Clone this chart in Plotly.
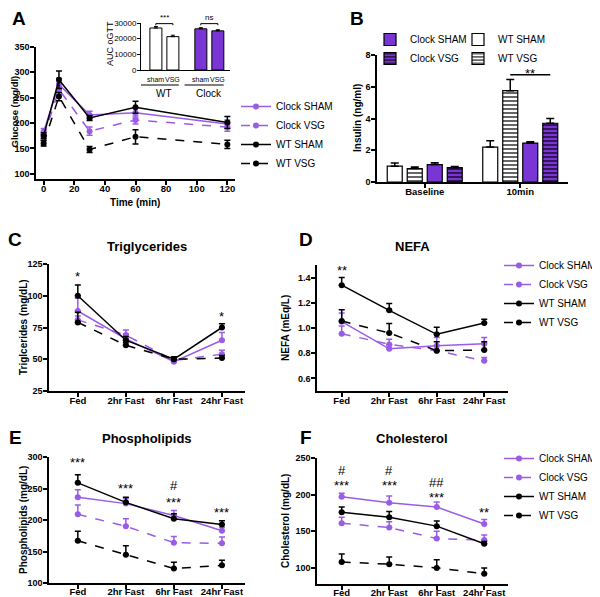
import plotly.graph_objects as go

# The page body has an 8px default margin, so the figure is sized to fit the
# 600x597 window and reference pixel positions are mapped with that offset.
OX, OY = 8, 8
W, H = 600 - OX, 597 - OY
def X(px): return (px - OX) / W
def Y(py): return 1 - (py - OY) / H

PURPLE_LINE = "#9a5ce6"
PURPLE_BAR = "#7a36d4"
FONT = "Liberation Sans, Arial, sans-serif"

# ---------------- data ----------------
groups = ["Clock SHAM", "Clock VSG", "WT SHAM", "WT VSG"]

# Panel A: oGTT glucose
time_min = [0, 10, 30, 60, 120]
glucose_clock_sham = [183, 276, 216, 220, 198]
glucose_clock_sham_err = [6, 12, 7, 10, 8]
glucose_clock_vsg = [172, 266, 184, 206, 192]
glucose_clock_vsg_err = [6, 10, 8, 8, 8]
glucose_wt_sham = [175, 285, 210, 231, 201]
glucose_wt_sham_err = [6, 17, 5, 12, 12]
glucose_wt_vsg = [160, 252, 148, 173, 158]
glucose_wt_vsg_err = [5, 8, 6, 14, 8]

# Panel A inset: AUC oGTT
auc_genotypes = ["WT", "Clock"]
auc_sham = [26800, 26300]
auc_sham_err = [1000, 700]
auc_vsg = [21300, 25000]
auc_vsg_err = [900, 700]

# Panel B: insulin
insulin_cats = ["Baseline", "10min"]
insulin_wt_sham = [1.0, 2.2]
insulin_wt_sham_err = [0.2, 0.4]
insulin_wt_vsg = [0.85, 5.75]
insulin_wt_vsg_err = [0.1, 0.7]
insulin_clock_sham = [1.1, 2.45]
insulin_clock_sham_err = [0.12, 0.08]
insulin_clock_vsg = [0.9, 3.7]
insulin_clock_vsg_err = [0.08, 0.3]

fast_cats = ["Fed", "2hr Fast", "6hr Fast", "24hr Fast"]

# Panel C: triglycerides
tg_clock_sham = [88, 66, 48, 65]
tg_clock_sham_err = [10, 4, 2, 6]
tg_clock_vsg = [81, 69, 49, 54]
tg_clock_vsg_err = [3, 4, 2, 3]
tg_wt_sham = [100, 65, 50, 75]
tg_wt_sham_err = [8.5, 3, 2, 3]
tg_wt_vsg = [79, 61, 50, 51]
tg_wt_vsg_err = [8, 2, 2, 2]

# Panel D: NEFA
nefa_clock_sham = [1.05, 0.835, 0.86, 0.875]
nefa_clock_sham_err = [0.07, 0.03, 0.065, 0.05]
nefa_clock_vsg = [0.955, 0.87, 0.82, 0.74]
nefa_clock_vsg_err = [0.06, 0.04, 0.04, 0.025]
nefa_wt_sham = [1.34, 1.14, 0.95, 1.04]
nefa_wt_sham_err = [0.06, 0.055, 0.055, 0.03]
nefa_wt_vsg = [1.055, 0.96, 0.82, 0.825]
nefa_wt_vsg_err = [0.09, 0.075, 0.07, 0.065]

# Panel E: phospholipids
pl_clock_sham = [236, 226, 207, 183]
pl_clock_sham_err = [12, 8, 8, 5]
pl_clock_vsg = [209, 190, 164, 163]
pl_clock_vsg_err = [15, 12, 10, 10]
pl_wt_sham = [259, 228, 202, 193]
pl_wt_sham_err = [13, 8, 8, 6]
pl_wt_vsg = [167, 145, 123, 128]
pl_wt_vsg_err = [15, 14, 10, 8]

# Panel F: cholesterol
ch_clock_sham = [197, 189, 183, 160]
ch_clock_sham_err = [5, 9, 7, 6]
ch_clock_vsg = [161, 155, 140, 138]
ch_clock_vsg_err = [8, 8, 10, 7]
ch_wt_sham = [176, 169, 157, 133]
ch_wt_sham_err = [7, 8, 7, 3]
ch_wt_vsg = [108, 105, 100, 92]
ch_wt_vsg_err = [11, 10, 11, 8]

# significance labels (category, value level, label)
tg_sig = [("Fed", 115, "*"), ("24hr Fast", 84, "*")]
nefa_sig = [("Fed", 1.46, "**")]
pl_sig = [("Fed", 292, "***"), ("2hr Fast", 250, "***"), ("6hr Fast", 254, "#"),
          ("6hr Fast", 228, "***"), ("24hr Fast", 212, "***")]
ch_sig = [("Fed", 233, "#"), ("Fed", 212, "***"), ("2hr Fast", 233, "#"), ("2hr Fast", 212, "***"),
          ("6hr Fast", 217, "##"), ("6hr Fast", 196, "***"), ("24hr Fast", 176, "**")]

# ---------------- styles ----------------
style = {
    "Clock SHAM": dict(color=PURPLE_LINE, dash="solid"),
    "Clock VSG": dict(color=PURPLE_LINE, dash="dash"),
    "WT SHAM": dict(color="black", dash="solid"),
    "WT VSG": dict(color="black", dash="dash"),
}

fig = go.Figure()

def line_panel(xa, ya, xs, series, legend, show, symmetric):
    for name, (vals, errs) in zip(groups, series):
        s = style[name]
        ey = dict(type="data", array=errs, color=s["color"], thickness=1.5, width=3)
        if symmetric:
            ey["symmetric"] = True
        else:
            ey["symmetric"] = False
            ey["arrayminus"] = [0] * len(errs)
        fig.add_trace(go.Scatter(
            x=xs, y=vals, name=name, mode="lines+markers",
            line=dict(color=s["color"], width=1.5, dash=s["dash"]),
            marker=dict(size=6, color=s["color"]),
            error_y=ey, xaxis=xa, yaxis=ya,
            legend=legend, showlegend=show))

line_panel("x", "y", time_min,
           [(glucose_clock_sham, glucose_clock_sham_err), (glucose_clock_vsg, glucose_clock_vsg_err),
            (glucose_wt_sham, glucose_wt_sham_err), (glucose_wt_vsg, glucose_wt_vsg_err)],
           "legend", True, True)
line_panel("x4", "y4", fast_cats,
           [(tg_clock_sham, tg_clock_sham_err), (tg_clock_vsg, tg_clock_vsg_err),
            (tg_wt_sham, tg_wt_sham_err), (tg_wt_vsg, tg_wt_vsg_err)],
           "legend", False, False)
line_panel("x5", "y5", fast_cats,
           [(nefa_clock_sham, nefa_clock_sham_err), (nefa_clock_vsg, nefa_clock_vsg_err),
            (nefa_wt_sham, nefa_wt_sham_err), (nefa_wt_vsg, nefa_wt_vsg_err)],
           "legend2", True, False)
line_panel("x6", "y6", fast_cats,
           [(pl_clock_sham, pl_clock_sham_err), (pl_clock_vsg, pl_clock_vsg_err),
            (pl_wt_sham, pl_wt_sham_err), (pl_wt_vsg, pl_wt_vsg_err)],
           "legend", False, False)
line_panel("x7", "y7", fast_cats,
           [(ch_clock_sham, ch_clock_sham_err), (ch_clock_vsg, ch_clock_vsg_err),
            (ch_wt_sham, ch_wt_sham_err), (ch_wt_vsg, ch_wt_vsg_err)],
           "legend3", True, False)

# Inset bars (AUC)
bar_w = 0.267
for vals, errs, off in [(auc_sham, auc_sham_err, -0.322), (auc_vsg, auc_vsg_err, 0.056)]:
    fig.add_trace(go.Bar(
        x=auc_genotypes, y=vals, width=bar_w, offset=off,
        marker=dict(color=["white", PURPLE_BAR], line=dict(color="black", width=1)),
        error_y=dict(type="data", array=errs, symmetric=False, arrayminus=[0, 0],
                     color="black", thickness=1, width=2),
        xaxis="x2", yaxis="y2", showlegend=False))

# Panel B bars
bar_style = {
    "WT SHAM": dict(color="white", pattern=None),
    "WT VSG": dict(color="white", pattern=dict(shape="-", fgcolor="black", bgcolor="white", size=4, solidity=0.3)),
    "Clock SHAM": dict(color=PURPLE_BAR, pattern=None),
    "Clock VSG": dict(color=PURPLE_BAR, pattern=dict(shape="-", fgcolor="black", bgcolor=PURPLE_BAR, size=4, solidity=0.3)),
}
bar_series = [("WT SHAM", insulin_wt_sham, insulin_wt_sham_err, "legend5"),
              ("WT VSG", insulin_wt_vsg, insulin_wt_vsg_err, "legend5"),
              ("Clock SHAM", insulin_clock_sham, insulin_clock_sham_err, "legend4"),
              ("Clock VSG", insulin_clock_vsg, insulin_clock_vsg_err, "legend4")]
for name, vals, errs, lg in bar_series:
    bs = bar_style[name]
    mk = dict(color=bs["color"], line=dict(color="black", width=1.2))
    if bs["pattern"]:
        mk["pattern"] = bs["pattern"]
    fig.add_trace(go.Bar(
        x=insulin_cats, y=vals, name=name, marker=mk,
        error_y=dict(type="data", array=errs, symmetric=False, arrayminus=[0, 0],
                     color="black", thickness=1.5, width=4),
        xaxis="x3", yaxis="y3", legend=lg))

# ---------------- axes ----------------
xtickfont = dict(family=FONT, size=9.5, color="black", weight="bold")
ytickfont = dict(family=FONT, size=9, color="black", weight="bold")
def ax(domain, rng, is_x, **kw):
    d = dict(domain=domain, range=rng, showline=True, linecolor="black", linewidth=1.5,
             ticks="outside", ticklen=4, tickwidth=1.5, tickcolor="black",
             showgrid=False, zeroline=False, fixedrange=True, automargin=False,
             tickfont=xtickfont if is_x else ytickfont,
             ticklabelstandoff=-4 if is_x else -1)
    d.update(kw)
    return d

def xd(a, b): return [X(a), X(b)]
def yd(top, bot): return [Y(bot), Y(top)]

cat_kw = dict(type="category", categoryorder="array", categoryarray=fast_cats)

fig.update_layout(
    template="none",
    xaxis=ax(xd(36, 235), [-5, 125], True, tickvals=[0, 20, 40, 60, 80, 100, 120], anchor="y"),
    yaxis=ax(yd(46.7, 179), [90, 350], False, tickvals=[100, 150, 200, 250, 300, 350], anchor="x"),
    xaxis2=ax(xd(141, 230), [-0.52, 1.46], True, type="category", showticklabels=False, ticks="",
              anchor="y2", linewidth=1),
    yaxis2=ax(yd(23, 70), [0, 30000], False, tickvals=[0, 10000, 20000, 30000], tickformat="d",
              anchor="x2", linewidth=1, ticklen=3, tickwidth=1,
              tickfont=dict(family=FONT, size=8, color="black")),
    xaxis3=ax(xd(377, 568), [-0.5, 1.5], True, type="category", anchor="y3"),
    yaxis3=ax(yd(55, 182), [0, 8], False, tickvals=[0, 2, 4, 6, 8], anchor="x3"),
    xaxis4=ax(xd(49, 245), [-0.6, 3.48], True, anchor="y4", **cat_kw),
    yaxis4=ax(yd(264, 391), [25, 125], False, tickvals=[25, 50, 75, 100, 125], anchor="x4"),
    xaxis5=ax(xd(317, 508), [-0.52, 3.5], True, anchor="y5", **cat_kw),
    yaxis5=ax(yd(265, 391), [0.5, 1.5], False, tickvals=[0.6, 0.8, 1.0, 1.2, 1.4], tickformat=".1f",
              anchor="x5"),
    xaxis6=ax(xd(49, 245), [-0.6, 3.48], True, anchor="y6", ticklabelstandoff=-5, **cat_kw),
    yaxis6=ax(yd(457, 583), [100, 300], False, tickvals=[100, 150, 200, 250, 300], anchor="x6"),
    xaxis7=ax(xd(317, 508), [-0.52, 3.5], True, anchor="y7", ticklabelstandoff=-5, **cat_kw),
    yaxis7=ax(yd(458, 584), [78, 250], False, tickvals=[100, 150, 200, 250], anchor="x7"),
    barmode="group", bargap=0.162, bargroupgap=0.25,
    width=W, height=H, margin=dict(l=0, r=0, t=0, b=0, autoexpand=False),
    paper_bgcolor="white", plot_bgcolor="white",
    font=dict(family=FONT, color="black"),
)

leg_common = dict(xanchor="left", yanchor="middle", bgcolor="rgba(0,0,0,0)",
                  font=dict(family=FONT, size=10, color="black"), itemwidth=30,
                  tracegroupgap=0, borderwidth=0)
fig.update_layout(
    legend=dict(x=X(236), y=Y(135), **leg_common),
    legend2=dict(x=X(499), y=Y(294), **leg_common),
    legend3=dict(x=X(499), y=Y(487), **leg_common),
    legend4=dict(x=X(370), y=Y(49), **leg_common),
    legend5=dict(x=X(458), y=Y(49), **leg_common),
)

annotations = []
def txt(x, y, text, size=10, bold=True, angle=0, xref="paper", yref="paper",
        xanchor="center", yanchor="middle", **kw):
    annotations.append(dict(x=x, y=y, text=text, showarrow=False, xref=xref, yref=yref,
                            textangle=angle, xanchor=xanchor, yanchor=yanchor,
                            font=dict(family=FONT, size=size, color="black",
                                      weight="bold" if bold else "normal"), **kw))

# panel letters
for letter, px, py in [("A", 19, 19), ("B", 357, 19), ("C", 15, 240), ("D", 306, 240),
                       ("E", 15, 437), ("F", 306, 437)]:
    txt(X(px), Y(py), letter, size=19)

# titles
for t, px, py in [("Triglycerides", 147, 247), ("NEFA", 412, 246),
                  ("Phospholipids", 147, 438), ("Cholesterol", 412, 438)]:
    txt(X(px), Y(py), t, size=13)

# axis titles
txt(X(13.5), Y(112), "Glucose (mg/dl)", size=9.5, angle=-90)
txt(X(135), Y(202), "Time (min)")
txt(X(358), Y(118), "Insulin (ng/ml)", angle=-90)
txt(X(23), Y(327), "Triglcerides (mg/dL)", angle=-90)
txt(X(285), Y(328), "NEFA (mEq/L)", angle=-90)
txt(X(23), Y(520), "Phospholipids (mg/dL)", angle=-90)
txt(X(285), Y(521), "Cholesterol (mg/dL)", angle=-90)
txt(X(110), Y(44), "AUC oGTT", size=9, bold=False, angle=-90)

# inset group labels
for g in auc_genotypes:
    txt(g, Y(79), "sham", size=7, bold=False, xref="x2", xshift=-9)
    txt(g, Y(79), "VSG", size=7, bold=False, xref="x2", xshift=8)
    txt(g, Y(93), g, size=10, bold=False, xref="x2")

shapes = []
for g_idx in range(len(auc_genotypes)):
    shapes.append(dict(type="line", xref="x2", yref="paper", x0=g_idx - 0.55, x1=g_idx + 0.32,
                       y0=Y(85), y1=Y(85), line=dict(color="black", width=1)))

# inset significance brackets
for g_idx, lab in [(0, "***"), (1, "ns")]:
    shapes.append(dict(type="path", xref="x2", yref="y2",
                       path=f"M {g_idx-0.19},28600 L {g_idx-0.19},29600 L {g_idx+0.19},29600 L {g_idx+0.19},28600",
                       line=dict(color="black", width=1)))
    txt(g_idx, 29400, lab, size=8, bold=False, xref="x2", yref="y2", yanchor="bottom")

# panel B significance
shapes.append(dict(type="line", xref="x3", yref="y3", x0=0.895, x1=1.314, y0=6.75, y1=6.75,
                   line=dict(color="black", width=1.5)))
txt(1.105, 6.85, "**", size=13, bold=False, xref="x3", yref="y3")

for sigs, xr, yr in [(tg_sig, "x4", "y4"), (nefa_sig, "x5", "y5"), (pl_sig, "x6", "y6"), (ch_sig, "x7", "y7")]:
    for cat, yv, lab in sigs:
        txt(cat, yv, lab, size=13, bold=False, xref=xr, yref=yr)

fig.update_layout(annotations=annotations, shapes=shapes)

fig.write_html("out.html")
